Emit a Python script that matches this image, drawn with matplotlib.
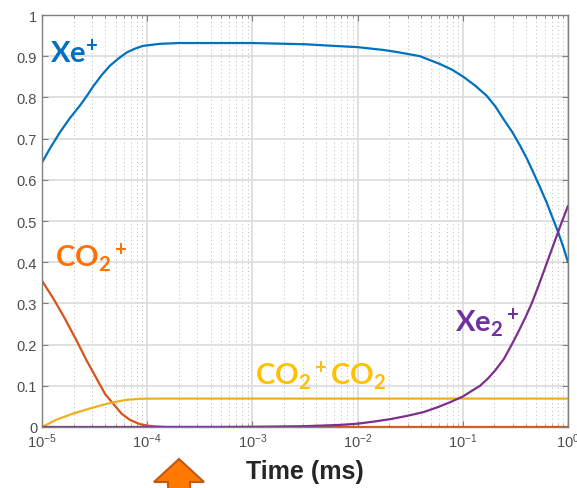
import numpy as np
import matplotlib
matplotlib.use("Agg")
import matplotlib.pyplot as plt
from matplotlib.patches import Polygon
from matplotlib.ticker import LogLocator, FixedLocator, FuncFormatter, NullFormatter

plt.rcParams['font.family'] = ['Liberation Sans', 'DejaVu Sans']
plt.rcParams['axes.unicode_minus'] = False
plt.rcParams['mathtext.fontset'] = 'custom'
plt.rcParams['mathtext.rm'] = 'Lato:bold'
plt.rcParams['mathtext.bf'] = 'Lato:bold'
plt.rcParams['mathtext.it'] = 'Lato:bold'

# ---- data (log10 of time in ms, fraction) ----
xe_logt = [-5.0, -4.92, -4.83, -4.74, -4.64, -4.57, -4.51, -4.43, -4.354, -4.27, -4.195,
           -4.12, -4.04, -3.88, -3.7, -3.5, -3.0, -2.5, -2.26, -2.0, -1.75, -1.6,
           -1.407, -1.217, -1.1, -0.989, -0.88, -0.773, -0.69, -0.615, -0.53, -0.456,
           -0.39, -0.33, -0.27, -0.203, -0.15, -0.092, -0.045, 0.0]
xe_val = [0.642, 0.678, 0.715, 0.748, 0.780, 0.805, 0.828, 0.855, 0.877, 0.895, 0.909,
          0.918, 0.925, 0.930, 0.932, 0.932, 0.932, 0.929, 0.9255, 0.922, 0.915, 0.909,
          0.900, 0.881, 0.867, 0.849, 0.828, 0.804, 0.778, 0.748, 0.716, 0.683,
          0.651, 0.618, 0.584, 0.545, 0.510, 0.472, 0.437, 0.400]

co2_logt = [-5.0, -4.89, -4.78, -4.67, -4.575, -4.48, -4.40, -4.322, -4.242, -4.163,
            -4.07, -3.99, -3.9, -3.8, 0.0]
co2_val = [0.355, 0.311, 0.262, 0.209, 0.161, 0.117, 0.080, 0.056, 0.032, 0.017,
           0.007, 0.003, 0.001, 0.0, 0.0]

dim_logt = [-5.0, -4.86, -4.70, -4.544, -4.417, -4.322, -4.195, -4.07, -3.9, -3.7, 0.0]
dim_val = [0.0, 0.018, 0.033, 0.045, 0.054, 0.060, 0.066, 0.0685, 0.069, 0.069, 0.069]

xe2_logt = [-5.0, -3.3, -3.0, -2.8, -2.5, -2.17, -2.0, -1.85, -1.69, -1.53, -1.375,
            -1.24, -1.122, -1.0, -0.9, -0.836, -0.76, -0.69, -0.61, -0.535, -0.47,
            -0.405, -0.345, -0.28, -0.21, -0.14, -0.07, 0.0]
xe2_val = [0.0, 0.0, 0.0005, 0.001, 0.002, 0.005, 0.008, 0.013, 0.019, 0.027, 0.036,
           0.048, 0.060, 0.074, 0.090, 0.100, 0.118, 0.138, 0.165, 0.200, 0.232,
           0.266, 0.300, 0.343, 0.392, 0.441, 0.490, 0.537]

yticks = [0, 0.1, 0.2, 0.3, 0.4, 0.5, 0.6, 0.7, 0.8, 0.9, 1.0]

W, H = 577, 489
fig = plt.figure(figsize=(W / 100, H / 100), dpi=100)
ax = fig.add_axes([42 / W, 61 / H, 526 / W, 412 / H])

t = lambda a: 10 ** np.array(a)
kw = dict(lw=1.6, solid_joinstyle='round', solid_capstyle='round')
ax.plot(t(xe_logt), xe_val, color='#0072BD', **kw)
ax.plot(t(co2_logt), co2_val, color='#D95319', **kw)
ax.plot(t(dim_logt), dim_val, color='#EDB120', **kw)
ax.plot(t(xe2_logt), xe2_val, color='#7E2F8E', **kw)

ax.set_xscale('log')
ax.set_xlim(1e-5, 1)
ax.set_ylim(0, 1)
ax.yaxis.set_major_locator(FixedLocator(yticks))
ax.yaxis.set_major_formatter(FuncFormatter(lambda v, p: '%g' % v))
ax.xaxis.set_major_locator(LogLocator(base=10, numticks=10))
ax.xaxis.set_minor_locator(LogLocator(base=10, subs=np.arange(2, 10), numticks=20))
ax.xaxis.set_minor_formatter(NullFormatter())

ax.grid(True, which='major', color='#dcdcdc', lw=1.2, ls='-')
ax.grid(True, which='minor', axis='x', color='#b8b8b8', lw=0.7, ls=(0, (1, 3)))
ax.set_axisbelow(True)
ax.tick_params(which='both', direction='in', top=True, right=True,
               colors='#808080', labelcolor='#4d4d4d', labelsize=10.5)
ax.tick_params(which='major', length=4)
ax.tick_params(which='minor', length=2.5)
for s in ax.spines.values():
    s.set_color('#808080')
    s.set_linewidth(1.0)

ax.set_xlabel('Time (ms)', fontsize=18, fontweight='bold', color='#262626', labelpad=6)

lab = dict(fontfamily='Lato', fontweight='bold', fontsize=21, ha='left', va='baseline')
ax.text(10 ** -4.924, 0.886, 'Xe$^{\\!+}$', color='#0070C0', **lab)
ax.text(10 ** -4.876, 0.391, 'CO$_2$$^+$', color='#FF7000', **lab)
ax.text(10 ** -2.975, 0.104, 'CO$_2$$^+$CO$_2$', color='#FFC000', **lab)
ax.text(10 ** -1.074, 0.233, 'Xe$_2$$^+$', color='#7030A0', **lab)

# orange arrow under the axis
pts = [(179, 460), (204, 483), (190, 483), (190, 492), (168, 492), (168, 483), (154, 483)]
fig.patches.append(Polygon([(x / W, 1 - y / H) for x, y in pts], closed=True,
                           transform=fig.transFigure, facecolor='#FF7800',
                           edgecolor='#C05A10', lw=1.5, clip_on=False))

fig.savefig('out.png', dpi=100)
